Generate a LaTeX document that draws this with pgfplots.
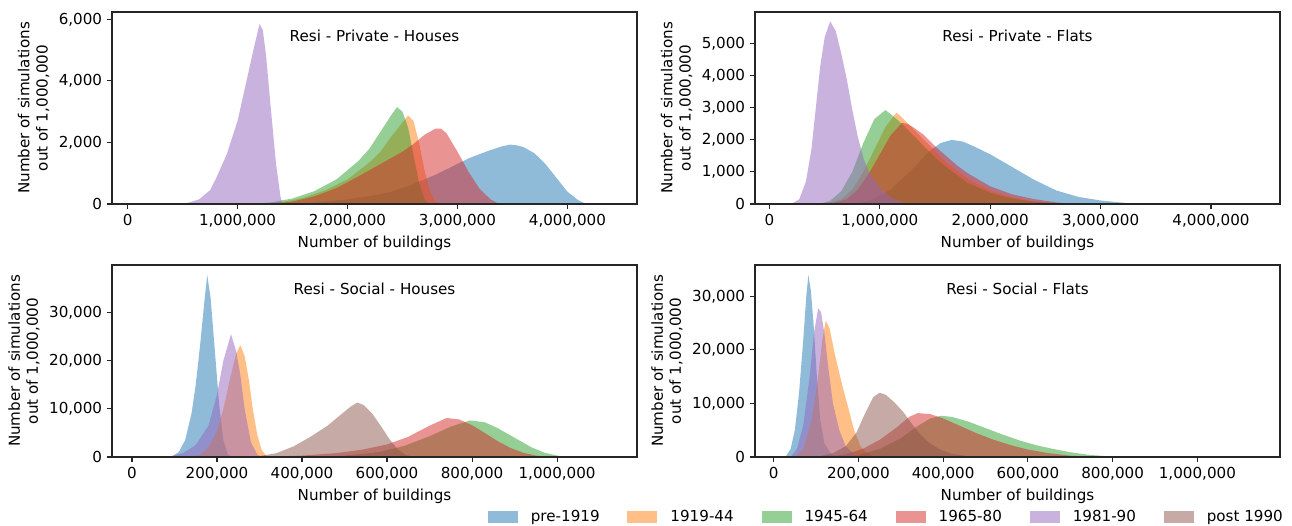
\documentclass[border=0pt]{standalone}
\usepackage{fontspec}
\setmainfont{DejaVu Sans}
\usepackage{pgfplots}
\pgfplotsset{compat=1.18}
\definecolor{c0}{HTML}{1F77B4}
\definecolor{c1}{HTML}{FF7F0E}
\definecolor{c2}{HTML}{2CA02C}
\definecolor{c3}{HTML}{D62728}
\definecolor{c4}{HTML}{9467BD}
\definecolor{c5}{HTML}{8C564B}
\newcommand{\mpl}{\fontsize{10.9bp}{13bp}\selectfont}
\pgfplotsset{
  common/.style={
    scale only axis, width=378bp, height=138.24bp,
    ymin=0,
    axis line style={line width=0.8bp, black!85},
    tick align=outside, tick pos=left,
    major tick length=3.6bp,
    every tick/.style={black!85, line width=0.8bp},
    tick label style={font=\mpl},
    label style={font=\mpl},
    /pgf/number format/assume math mode=true,
    scaled ticks=false,
    xticklabel style={/pgf/number format/.cd, fixed, 1000 sep={{,}}},
    yticklabel style={/pgf/number format/.cd, fixed, 1000 sep={{,}}},
    xlabel={Number of buildings},
    ylabel={Number of simulations\\out of 1,000,000},
    ylabel style={align=center},
    axis on top,
  },
  h0/.style={fill=c0, fill opacity=0.5, draw=none},
  h1/.style={fill=c1, fill opacity=0.5, draw=none},
  h2/.style={fill=c2, fill opacity=0.5, draw=none},
  h3/.style={fill=c3, fill opacity=0.5, draw=none},
  h4/.style={fill=c4, fill opacity=0.5, draw=none},
  h5/.style={fill=c5, fill opacity=0.5, draw=none},
}
\begin{document}
\begin{tikzpicture}
\useasboundingbox (0,0) rectangle (930.24bp,-378.72bp);
% ---------------- Top left: Resi - Private - Houses
\begin{axis}[common, at={(80.64bp,-8.64bp)}, anchor=north west,
  xmin=-142000, xmax=4633000, ymax=6240,
  xtick={0,1000000,2000000,3000000,4000000}, ytick={0,2000,4000,6000}]
\addplot[h0] coordinates {(1400000,0) (1600000,30) (1800000,80) (2000000,150) (2200000,250) (2400000,400) (2600000,650) (2800000,950) (3000000,1300) (3100000,1480) (3200000,1620) (3300000,1750) (3400000,1870) (3480000,1930) (3550000,1900) (3600000,1850) (3700000,1650) (3800000,1300) (3900000,850) (4000000,400) (4100000,120) (4170000,0)} \closedcycle;
\addplot[h1] coordinates {(1200000,0) (1400000,60) (1600000,200) (1800000,450) (2000000,800) (2200000,1350) (2300000,1700) (2400000,2200) (2500000,2650) (2550000,2880) (2600000,2700) (2650000,2000) (2700000,1100) (2750000,400) (2800000,80) (2850000,0)} \closedcycle;
\addplot[h2] coordinates {(1100000,0) (1300000,50) (1500000,180) (1700000,420) (1900000,800) (2100000,1400) (2200000,1800) (2300000,2350) (2400000,2900) (2450000,3150) (2500000,3000) (2550000,2500) (2600000,1600) (2650000,700) (2700000,150) (2750000,0)} \closedcycle;
\addplot[h3] coordinates {(1300000,0) (1500000,80) (1700000,250) (1900000,520) (2100000,900) (2300000,1300) (2500000,1700) (2600000,1950) (2700000,2250) (2800000,2450) (2850000,2450) (2900000,2300) (3000000,1700) (3100000,1050) (3200000,500) (3300000,150) (3380000,0)} \closedcycle;
\addplot[h4] coordinates {(450000,0) (550000,40) (650000,150) (750000,450) (800000,800) (900000,1600) (1000000,2700) (1100000,4300) (1150000,5100) (1200000,5850) (1230000,5650) (1260000,4800) (1300000,3200) (1350000,1300) (1390000,250) (1410000,0)} \closedcycle;
\node[font=\mpl] at (rel axis cs:0.5,0.875) {Resi - Private - Houses};
\end{axis}
% ---------------- Top right: Resi - Private - Flats
\begin{axis}[common, at={(543.6bp,-8.64bp)}, anchor=north west,
  xmin=-131000, xmax=4625000, ymax=5990,
  xtick={0,1000000,2000000,3000000,4000000}, ytick={0,1000,2000,3000,4000,5000}]
\addplot[h0] coordinates {(700000,0) (900000,100) (1100000,450) (1300000,1100) (1450000,1650) (1550000,1900) (1650000,2000) (1750000,1950) (1850000,1800) (2000000,1550) (2100000,1350) (2250000,1050) (2400000,750) (2600000,420) (2800000,220) (3000000,110) (3200000,40) (3320000,0)} \closedcycle;
\addplot[h1] coordinates {(500000,0) (650000,150) (750000,450) (850000,1000) (950000,1700) (1050000,2400) (1150000,2850) (1200000,2700) (1300000,2350) (1400000,2000) (1500000,1650) (1600000,1300) (1800000,780) (2000000,420) (2200000,200) (2400000,80) (2600000,20) (2700000,0)} \closedcycle;
\addplot[h2] coordinates {(450000,0) (550000,100) (650000,400) (750000,1000) (850000,1900) (950000,2650) (1050000,2930) (1100000,2800) (1200000,2500) (1300000,2150) (1400000,1800) (1500000,1450) (1600000,1150) (1800000,650) (2000000,350) (2200000,170) (2400000,70) (2600000,20) (2700000,0)} \closedcycle;
\addplot[h3] coordinates {(550000,0) (700000,150) (800000,450) (900000,950) (1000000,1550) (1100000,2150) (1200000,2530) (1250000,2500) (1300000,2400) (1400000,2150) (1500000,1800) (1600000,1500) (1700000,1200) (1800000,950) (2000000,550) (2200000,300) (2400000,150) (2600000,50) (2750000,0)} \closedcycle;
\addplot[h4] coordinates {(200000,0) (270000,150) (330000,700) (380000,1700) (420000,3000) (460000,4300) (500000,5200) (550000,5700) (600000,5400) (650000,4700) (700000,3900) (750000,2950) (800000,2100) (850000,1450) (900000,1000) (1000000,500) (1100000,200) (1200000,50) (1280000,0)} \closedcycle;
\node[font=\mpl] at (rel axis cs:0.5,0.875) {Resi - Private - Flats};
\end{axis}
% ---------------- Bottom left: Resi - Social - Houses
\begin{axis}[common, at={(80.64bp,-190.8bp)}, anchor=north west,
  xmin=-47000, xmax=1188000, ymax=39860,
  xtick={0,200000,400000,600000,800000,1000000}, ytick={0,10000,20000,30000}]
\addplot[h0] coordinates {(75000,0) (95000,200) (110000,1000) (125000,3500) (140000,9000) (150000,15000) (160000,23000) (170000,32000) (177000,37800) (185000,33000) (195000,22000) (205000,11000) (215000,3500) (225000,600) (235000,0)} \closedcycle;
\addplot[h1] coordinates {(130000,0) (160000,500) (180000,2000) (200000,5500) (215000,10000) (230000,16000) (245000,21500) (255000,23200) (265000,21000) (275000,16000) (285000,9500) (295000,4500) (305000,1500) (315000,300) (325000,0)} \closedcycle;
\addplot[h2] coordinates {(400000,0) (500000,300) (580000,1000) (640000,2300) (700000,4300) (750000,6300) (795000,7600) (830000,7200) (860000,6000) (900000,4000) (940000,2000) (970000,900) (1000000,300) (1025000,0)} \closedcycle;
\addplot[h3] coordinates {(300000,0) (400000,300) (480000,800) (540000,1500) (600000,2600) (650000,4200) (700000,6500) (740000,8100) (770000,7800) (800000,6600) (830000,5000) (860000,3300) (890000,1900) (920000,900) (950000,300) (980000,0)} \closedcycle;
\addplot[h4] coordinates {(85000,0) (120000,800) (150000,2500) (180000,6500) (200000,13000) (215000,20000) (233000,25500) (245000,22000) (255000,17000) (265000,10000) (280000,3000) (295000,500) (305000,0)} \closedcycle;
\addplot[h5] coordinates {(270000,0) (300000,200) (340000,800) (380000,2200) (420000,4200) (460000,6500) (490000,8700) (515000,10500) (530000,11300) (545000,10800) (565000,9000) (585000,6500) (605000,3800) (625000,1600) (645000,400) (665000,0)} \closedcycle;
\node[font=\mpl] at (rel axis cs:0.5,0.875) {Resi - Social - Houses};
\end{axis}
% ---------------- Bottom right: Resi - Social - Flats
\begin{axis}[common, at={(543.6bp,-190.8bp)}, anchor=north west,
  xmin=-44000, xmax=1195000, ymax=35860,
  xtick={0,200000,400000,600000,800000,1000000}, ytick={0,10000,20000,30000},
  legend columns=6,
  legend style={draw=none, fill=none, at={(1.006,-0.3125)}, anchor=east,
    font=\mpl, inner sep=0pt, nodes={inner xsep=0pt, inner ysep=1bp},
    /tikz/every odd column/.append style={column sep=9.4bp},
    /tikz/every even column/.append style={column sep=20bp}},
  legend image code/.code={\fill[#1, draw=none] (0bp,-4.3bp) rectangle (21.6bp,4.3bp);},
  legend cell align=left]
\addplot[h0] coordinates {(28000,0) (40000,1500) (50000,5000) (60000,12000) (70000,22000) (77000,30000) (82000,34000) (88000,31000) (95000,24000) (102000,15000) (110000,7000) (120000,2500) (135000,600) (150000,0)} \closedcycle;
\addplot[h1] coordinates {(50000,0) (70000,1500) (90000,7000) (105000,15000) (115000,22000) (123000,25500) (132000,24000) (145000,19000) (160000,14000) (175000,9500) (190000,5000) (205000,2000) (220000,700) (240000,0)} \closedcycle;
\addplot[h2] coordinates {(150000,0) (200000,400) (250000,1500) (300000,3500) (340000,5800) (370000,7200) (395000,7700) (420000,7500) (460000,6600) (500000,5400) (540000,4200) (580000,3100) (620000,2200) (660000,1500) (700000,900) (740000,450) (780000,180) (820000,40) (840000,0)} \closedcycle;
\addplot[h3] coordinates {(120000,0) (170000,500) (210000,1500) (250000,3200) (290000,5500) (320000,7500) (340000,8200) (370000,8000) (400000,7200) (440000,5800) (480000,4400) (520000,3200) (560000,2200) (600000,1400) (650000,700) (700000,250) (750000,50) (770000,0)} \closedcycle;
\addplot[h4] coordinates {(40000,0) (55000,1500) (70000,6000) (85000,15000) (95000,23000) (105000,27800) (112000,27000) (120000,23000) (130000,16000) (140000,10000) (155000,5000) (170000,2000) (190000,500) (210000,0)} \closedcycle;
\addplot[h5] coordinates {(100000,0) (140000,700) (170000,2000) (195000,4500) (215000,8000) (235000,11200) (250000,12000) (265000,11600) (285000,10200) (305000,8500) (325000,6300) (345000,4300) (365000,2800) (390000,1500) (420000,600) (460000,150) (500000,0)} \closedcycle;
\legend{pre-1919, 1919-44, 1945-64, 1965-80, 1981-90, post 1990}
\node[font=\mpl] at (rel axis cs:0.5,0.875) {Resi - Social - Flats};
\end{axis}
\end{tikzpicture}
\end{document}
